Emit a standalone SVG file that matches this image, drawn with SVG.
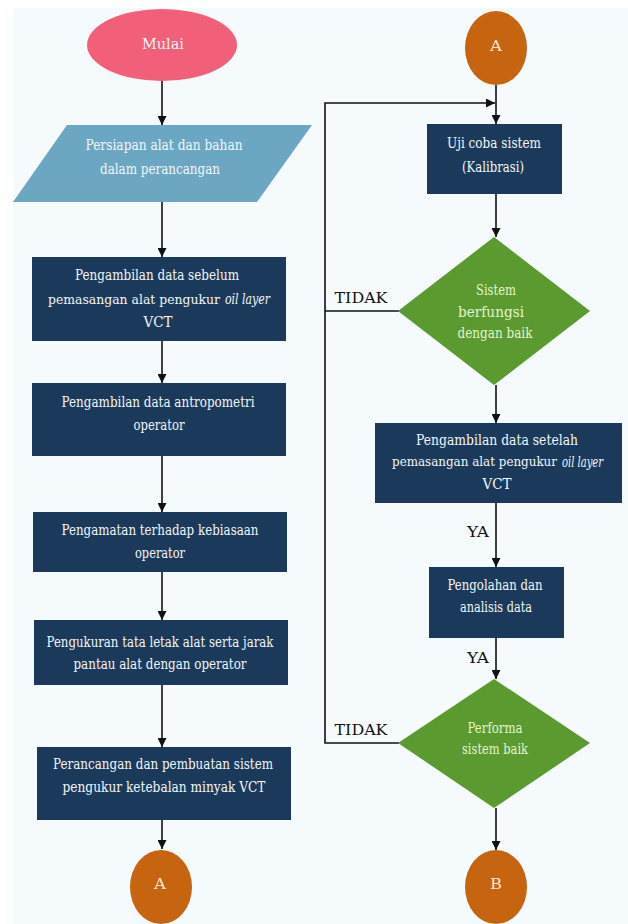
<svg xmlns="http://www.w3.org/2000/svg" width="628" height="924" viewBox="0 0 628 924">
<defs>
<marker id="ah" markerUnits="userSpaceOnUse" markerWidth="9" markerHeight="9" viewBox="0 0 10 10" refX="10" refY="5" orient="auto"><path d="M0,0 L10,5 L0,10 z" fill="#111"/></marker>
</defs>
<style>
.t{font-family:"DejaVu Serif",serif;font-size:15px;text-anchor:middle;dominant-baseline:central}
.s{text-anchor:start;font-size:12.5px}
.i{font-style:italic;text-anchor:start;font-size:14px}
.w{fill:#f4f6f8}
.g{fill:#e2f5cf}
.c{fill:#fbe9d4;font-size:15px}
.lbl{fill:#111;font-size:15px}
.box{fill:#1b3a5b}
.dia{fill:#5b9a2f}
.con{fill:#c6640f}
.ln{stroke:#111;stroke-width:1.6;fill:none}
</style>
<rect x="0" y="0" width="628" height="924" fill="#ffffff"/>
<rect x="13" y="8" width="615" height="916" fill="#f5fbfd"/>

<g id="connectors">
<line class="ln" x1="162" y1="81" x2="162" y2="125" marker-end="url(#ah)"/>
<line class="ln" x1="162" y1="202" x2="162" y2="257" marker-end="url(#ah)"/>
<line class="ln" x1="162" y1="341" x2="162" y2="383" marker-end="url(#ah)"/>
<line class="ln" x1="162" y1="456" x2="162" y2="512" marker-end="url(#ah)"/>
<line class="ln" x1="162" y1="572" x2="162" y2="620" marker-end="url(#ah)"/>
<line class="ln" x1="162" y1="685" x2="162" y2="747" marker-end="url(#ah)"/>
<line class="ln" x1="162" y1="820" x2="162" y2="849" marker-end="url(#ah)"/>
<line class="ln" x1="496" y1="85" x2="496" y2="124" marker-end="url(#ah)"/>
<line class="ln" x1="496" y1="194" x2="496" y2="237" marker-end="url(#ah)"/>
<line class="ln" x1="496" y1="385" x2="496" y2="423" marker-end="url(#ah)"/>
<line class="ln" x1="496" y1="503" x2="496" y2="567" marker-end="url(#ah)"/>
<line class="ln" x1="496" y1="638" x2="496" y2="679" marker-end="url(#ah)"/>
<line class="ln" x1="496" y1="808" x2="496" y2="850" marker-end="url(#ah)"/>
<polyline class="ln" points="399,311 325,311"/>
<polyline class="ln" points="399,743 325,743 325,103 495,103" marker-end="url(#ah)"/>
<text class="t lbl" x="361" y="298" textLength="53" lengthAdjust="spacingAndGlyphs">TIDAK</text>
<text class="t lbl" x="361" y="730" textLength="53" lengthAdjust="spacingAndGlyphs">TIDAK</text>
<text class="t lbl" x="478" y="532" textLength="22" lengthAdjust="spacingAndGlyphs">YA</text>
<text class="t lbl" x="478" y="658" textLength="22" lengthAdjust="spacingAndGlyphs">YA</text>
</g>

<g id="mulai">
<ellipse cx="162" cy="45" rx="75" ry="36" fill="#f25f78"/>
<text class="t w" x="163" y="44" textLength="42" lengthAdjust="spacingAndGlyphs">Mulai</text>
</g>

<g id="persiapan">
<polygon points="67,125 312,125 257,202 13,202" fill="#6ba7c3"/>
<text class="t w" x="164" y="145" textLength="157" lengthAdjust="spacingAndGlyphs">Persiapan alat dan bahan</text>
<text class="t w" x="160" y="169" textLength="120" lengthAdjust="spacingAndGlyphs">dalam perancangan</text>
</g>

<g id="data-sebelum">
<rect class="box" x="32" y="257" width="254" height="84"/>
<text class="t w" x="157" y="275" textLength="164" lengthAdjust="spacingAndGlyphs">Pengambilan data sebelum</text>
<text class="t w s" x="48" y="299" textLength="172" lengthAdjust="spacingAndGlyphs">pemasangan alat pengukur</text>
<text class="t w i" x="225" y="299" textLength="45" lengthAdjust="spacingAndGlyphs">oil layer</text>
<text class="t w" x="158" y="322" textLength="29" lengthAdjust="spacingAndGlyphs">VCT</text>
</g>

<g id="antropometri">
<rect class="box" x="32" y="383" width="254" height="73"/>
<text class="t w" x="158" y="402" textLength="193" lengthAdjust="spacingAndGlyphs">Pengambilan data antropometri</text>
<text class="t w" x="159" y="425" textLength="51" lengthAdjust="spacingAndGlyphs">operator</text>
</g>

<g id="pengamatan">
<rect class="box" x="33" y="512" width="254" height="60"/>
<text class="t w" x="160" y="530" textLength="197" lengthAdjust="spacingAndGlyphs">Pengamatan terhadap kebiasaan</text>
<text class="t w" x="160" y="553" textLength="50" lengthAdjust="spacingAndGlyphs">operator</text>
</g>

<g id="pengukuran">
<rect class="box" x="34" y="620" width="254" height="65"/>
<text class="t w" x="160" y="642" textLength="227" lengthAdjust="spacingAndGlyphs">Pengukuran tata letak alat serta jarak</text>
<text class="t w" x="160" y="664" textLength="173" lengthAdjust="spacingAndGlyphs">pantau alat dengan operator</text>
</g>

<g id="perancangan">
<rect class="box" x="37" y="747" width="254" height="73"/>
<text class="t w" x="163" y="764" textLength="220" lengthAdjust="spacingAndGlyphs">Perancangan dan pembuatan sistem</text>
<text class="t w" x="164" y="787" textLength="203" lengthAdjust="spacingAndGlyphs">pengukur ketebalan minyak VCT</text>
</g>

<g id="conn-a-out">
<ellipse class="con" cx="161" cy="887" rx="31" ry="37"/>
<text class="t c" x="160" y="884" textLength="12" lengthAdjust="spacingAndGlyphs">A</text>
</g>

<g id="conn-a-in">
<ellipse class="con" cx="496" cy="48" rx="31" ry="37"/>
<text class="t c" x="496" y="46" textLength="12" lengthAdjust="spacingAndGlyphs">A</text>
</g>

<g id="uji-coba">
<rect class="box" x="427" y="124" width="135" height="70"/>
<text class="t w" x="494" y="143" textLength="94" lengthAdjust="spacingAndGlyphs">Uji coba sistem</text>
<text class="t w" x="493" y="167" textLength="62" lengthAdjust="spacingAndGlyphs">(Kalibrasi)</text>
</g>

<g id="sistem-berfungsi">
<polygon class="dia" points="494,237 590,311 494,385 398,311"/>
<text class="t g" x="496" y="290" textLength="40" lengthAdjust="spacingAndGlyphs">Sistem</text>
<text class="t g" x="491" y="312" textLength="66" lengthAdjust="spacingAndGlyphs">berfungsi</text>
<text class="t g" x="495" y="333" textLength="75" lengthAdjust="spacingAndGlyphs">dengan baik</text>
</g>

<g id="data-setelah">
<rect class="box" x="375" y="423" width="247" height="80"/>
<text class="t w" x="497" y="440" textLength="162" lengthAdjust="spacingAndGlyphs">Pengambilan data setelah</text>
<text class="t w s" x="392" y="462" textLength="165" lengthAdjust="spacingAndGlyphs" style="font-size:12px">pemasangan alat pengukur</text>
<text class="t w i" x="562" y="462" textLength="41" lengthAdjust="spacingAndGlyphs">oil layer</text>
<text class="t w" x="497" y="484" textLength="29" lengthAdjust="spacingAndGlyphs">VCT</text>
</g>

<g id="pengolahan">
<rect class="box" x="429" y="567" width="135" height="71"/>
<text class="t w" x="495" y="585" textLength="95" lengthAdjust="spacingAndGlyphs">Pengolahan dan</text>
<text class="t w" x="496" y="607" textLength="72" lengthAdjust="spacingAndGlyphs">analisis data</text>
</g>

<g id="performa">
<polygon class="dia" points="494,679 590,743 494,808 398,743"/>
<text class="t g" x="495" y="728" textLength="55" lengthAdjust="spacingAndGlyphs">Performa</text>
<text class="t g" x="495" y="749" textLength="66" lengthAdjust="spacingAndGlyphs">sistem baik</text>
</g>

<g id="conn-b">
<ellipse class="con" cx="496" cy="887" rx="31" ry="37"/>
<text class="t c" x="496" y="884" textLength="12" lengthAdjust="spacingAndGlyphs">B</text>
</g>
</svg>
